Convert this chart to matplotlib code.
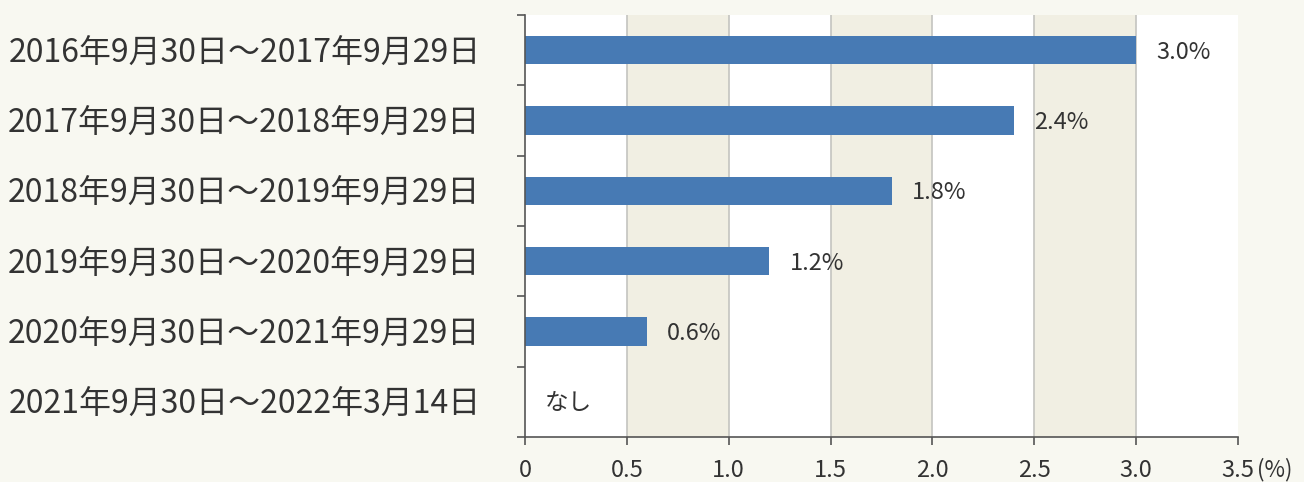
import matplotlib
matplotlib.use("Agg")
import matplotlib.pyplot as plt
from matplotlib.ticker import FixedLocator

plt.rcParams['font.family'] = ['Noto Sans CJK JP', 'DejaVu Sans']

periods = [
    "2016年9月30日～2017年9月29日",
    "2017年9月30日～2018年9月29日",
    "2018年9月30日～2019年9月29日",
    "2019年9月30日～2020年9月29日",
    "2020年9月30日～2021年9月29日",
    "2021年9月30日～2022年3月14日",
]
rates = [3.0, 2.4, 1.8, 1.2, 0.6, 0.0]
rate_labels = ["3.0%", "2.4%", "1.8%", "1.2%", "0.6%", "なし"]
xticks = [0, 0.5, 1.0, 1.5, 2.0, 2.5, 3.0, 3.5]
xtick_labels = ["0", "0.5", "1.0", "1.5", "2.0", "2.5", "3.0", "3.5"]

text_color = "#333333"
bar_color = "#477ab4"

fig = plt.figure(figsize=(13.04, 4.82), dpi=100)
fig.patch.set_facecolor("#f8f8f1")
ax = fig.add_axes([0.4026, 0.0934, 0.5468, 0.8755])
ax.set_facecolor("white")

n = len(periods)
ypos = list(range(n))

# shaded bands
for lo in [0.5, 1.5, 2.5]:
    ax.axvspan(lo, lo + 0.5, color="#f1efe3", zorder=0, lw=0)
for x in xticks[1:-1]:
    ax.axvline(x, color="#c4c4c0", lw=1.2, zorder=1)

ax.barh(ypos, rates, height=0.4, color=bar_color, zorder=2)

for y, v, lab in zip(ypos, rates, rate_labels):
    ax.annotate(lab, (v, y), xytext=(20, -2), textcoords="offset pixels",
                va="center", ha="left", fontsize=17, color=text_color)

ax.set_xlim(0, 3.5)
ax.set_ylim(n - 0.5, -0.5)
ax.set_xticks(xticks)
ax.set_xticklabels(xtick_labels, fontsize=17, color=text_color)
ax.set_yticks(ypos)
ax.set_yticklabels(periods, fontsize=23, color=text_color)
ax.tick_params(axis="y", which="major", length=0, pad=32)
ax.yaxis.set_minor_locator(FixedLocator([i - 0.5 for i in range(n + 1)]))
ax.tick_params(axis="y", which="minor", length=6, color="#555555", width=1.2)
ax.tick_params(axis="x", length=6, color="#555555", width=1.2, pad=10)
ax.annotate("(%)", (3.5, 0), xycoords=ax.get_xaxis_transform(), xytext=(19, -33),
            textcoords="offset pixels", ha="left", va="center", fontsize=16, color=text_color)

for s in ["top", "right"]:
    ax.spines[s].set_visible(False)
for s in ["left", "bottom"]:
    ax.spines[s].set_color("#555555")
    ax.spines[s].set_linewidth(1.2)

fig.savefig("out.png", dpi=100, facecolor=fig.get_facecolor())
